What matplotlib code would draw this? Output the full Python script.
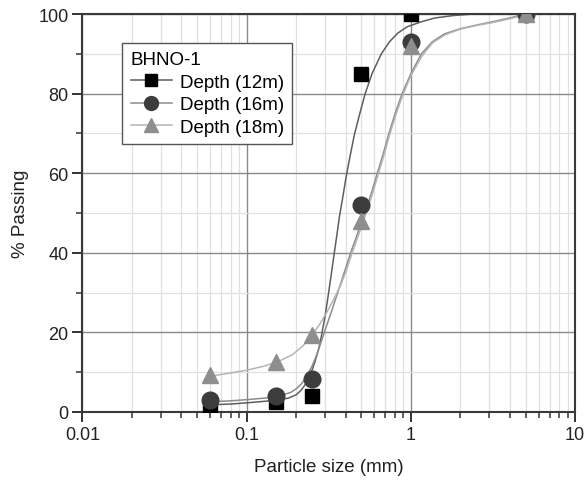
import numpy as np
import matplotlib
matplotlib.use('Agg')
import matplotlib.pyplot as plt
from matplotlib.ticker import LogLocator, FixedLocator, NullFormatter, FuncFormatter

plt.rcParams['font.family'] = ['Liberation Sans', 'DejaVu Sans']

# sieve results (mm, % passing)
sizes = [0.06, 0.15, 0.25, 0.5, 1.0, 5.0]
pass_12m = [0.8, 2.5, 4.1, 85, 100, 100]
pass_16m = [3.1, 4.0, 8.2, 52, 93, 100]
pass_18m = [9.3, 12.5, 19.3, 48, 92, 100]

# fitted grading curves
fit_x_12m = [0.06, 0.08, 0.1, 0.13, 0.16, 0.18, 0.2, 0.215, 0.23, 0.245, 0.26, 0.275,
             0.285, 0.3, 0.313, 0.326, 0.339, 0.353, 0.367, 0.385, 0.403, 0.425, 0.452,
             0.485, 0.527, 0.58, 0.661, 0.74, 0.832, 0.95, 1.148, 1.4, 1.8, 2.4, 5.0]
fit_y_12m = [1.8, 2.0, 2.3, 2.7, 3.1, 3.5, 4.3, 5.5, 7.2, 9.5, 12.5, 16,
             19, 24, 29, 34, 39, 44, 49, 54, 59, 64, 69.5,
             74.5, 80, 85, 90, 93, 95.2, 96.8, 98, 99, 99.6, 100, 100]
fit_x_16m = [0.06, 0.08, 0.1, 0.13, 0.16, 0.185, 0.2, 0.215, 0.23, 0.25, 0.265, 0.28,
             0.3, 0.33, 0.365, 0.4, 0.43, 0.475, 0.525, 0.575, 0.625, 0.68, 0.735,
             0.81, 0.885, 1.0, 1.16, 1.35, 1.6, 2.0, 2.5, 3.1, 4.0, 5.0]
fit_y_16m = [2.6, 2.8, 3.1, 3.5, 4.1, 4.9, 5.8, 7.0, 8.7, 11.5, 14.0, 16.8,
             20.5, 25.5, 31, 36, 40, 45, 50, 55, 60, 65, 70,
             75.5, 80, 85, 90, 93, 95, 96.3, 97.2, 98, 99, 100]
fit_x_18m = [0.06, 0.08, 0.1, 0.13, 0.16, 0.19, 0.22, 0.25, 0.28, 0.31, 0.34, 0.37,
             0.4, 0.435, 0.48, 0.53, 0.58, 0.63, 0.685, 0.74, 0.815, 0.89, 1.0,
             1.17, 1.36, 1.62, 2.0, 2.5, 3.1, 4.0, 5.0]
fit_y_18m = [9.0, 9.8, 10.5, 11.6, 12.9, 14.4, 16.6, 19.3, 22.2, 25.3, 28.4, 31.5,
             35, 39.5, 44.5, 49.5, 54.5, 59.5, 64.5, 69.5, 75, 79.5, 84.5,
             89.5, 92.8, 94.8, 96.2, 97.1, 97.8, 98.8, 99.8]

fig = plt.figure(figsize=(5.85, 4.81), dpi=100)
ax = fig.add_axes([0.141, 0.1414, 0.842, 0.8274])

ax.set_xscale('log')
ax.set_xlim(0.01, 10)
ax.set_ylim(0, 100)

# grid: dark major lines, faint minor ones
ax.xaxis.set_major_locator(LogLocator(base=10, numticks=10))
ax.xaxis.set_minor_locator(LogLocator(base=10, subs=np.arange(2, 10), numticks=20))
ax.xaxis.set_minor_formatter(NullFormatter())
ax.xaxis.set_major_formatter(FuncFormatter(lambda v, p: ('%g' % v)))
ax.yaxis.set_major_locator(FixedLocator([0, 20, 40, 60, 80, 100]))
ax.yaxis.set_minor_locator(FixedLocator([10, 30, 50, 70, 90]))
ax.grid(which='major', color='#8a8a8a', lw=1.0)
ax.grid(which='minor', color='#e0e0e0', lw=0.9)
ax.set_axisbelow(True)

ax.tick_params(which='major', direction='out', length=7, width=1.4, labelsize=13,
               color='#333333', labelcolor='#222222', pad=3)
ax.tick_params(which='minor', direction='out', length=4, width=1.1, color='#333333')
for s in ax.spines.values():
    s.set_color('#3a3a3a')
    s.set_linewidth(1.5)

ax.plot(fit_x_12m, fit_y_12m, color='#5e5e5e', lw=1.1, zorder=2)
ax.plot(fit_x_16m, fit_y_16m, color='#8c8c8c', lw=1.1, zorder=2)
ax.plot(fit_x_18m, fit_y_18m, color='#b4b4b4', lw=1.1, zorder=2)

ax.plot(sizes, pass_12m, ls='none', marker='s', ms=10.5, color='black', zorder=3)
ax.plot(sizes, pass_16m, ls='none', marker='o', ms=12, color='#3c3c3c', zorder=4)
ax.plot(sizes, pass_18m, ls='none', marker='^', ms=12, color='#8e8e8e', zorder=5)

# legend handles: line with marker
h1, = ax.plot([], [], color='#5e5e5e', lw=1.1, marker='s', ms=9, mfc='black', mec='black')
h2, = ax.plot([], [], color='#8c8c8c', lw=1.1, marker='o', ms=10, mfc='#3c3c3c', mec='#3c3c3c')
h3, = ax.plot([], [], color='#b4b4b4', lw=1.1, marker='^', ms=10, mfc='#8e8e8e', mec='#8e8e8e')
leg = ax.legend([h1, h2, h3], ['Depth (12m)', 'Depth (16m)', 'Depth (18m)'],
                title='BHNO-1', loc='upper left', bbox_to_anchor=(0.081, 0.927),
                borderaxespad=0, fontsize=13.5, title_fontsize=13.5, frameon=True,
                fancybox=False, edgecolor='#555555', framealpha=1, handlelength=2.2,
                handletextpad=0.4, borderpad=0.45, labelspacing=0.28)
leg._legend_box.align = 'left'
leg.get_frame().set_linewidth(1.0)

ax.set_xlabel('Particle size (mm)', fontsize=13.5, color='#222222', labelpad=11)
ax.set_ylabel('% Passing', fontsize=13.5, color='#222222', labelpad=7)

fig.savefig('out.png', dpi=100)
